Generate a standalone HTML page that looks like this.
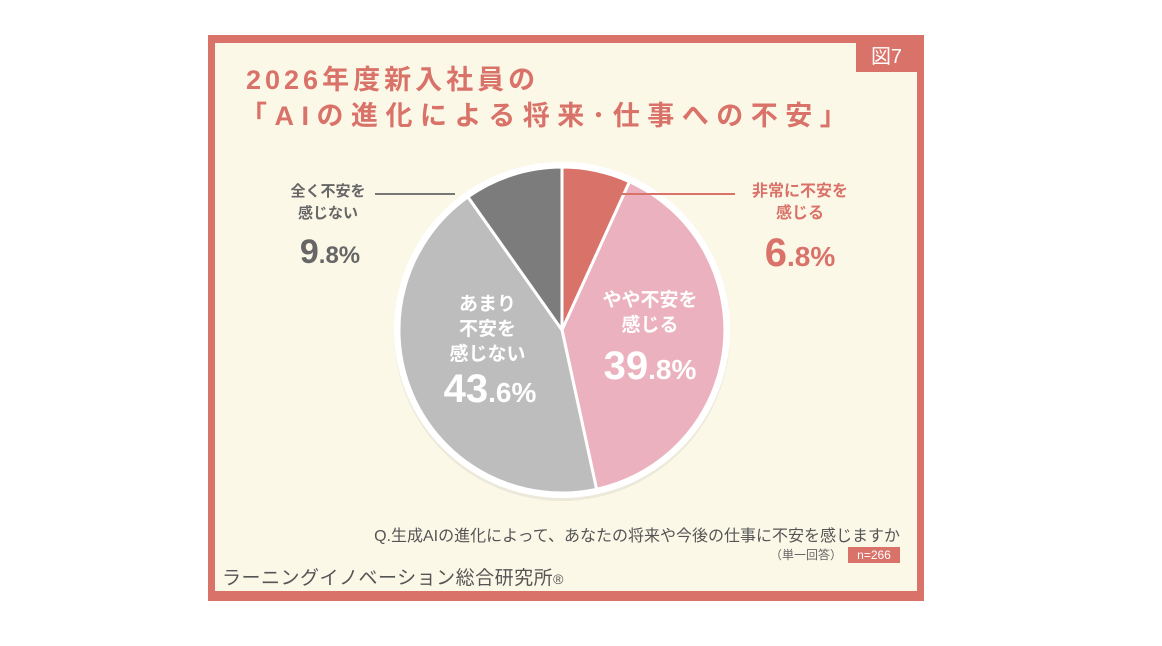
<!DOCTYPE html>
<html><head><meta charset="utf-8"><style>
body{margin:0;width:1162px;height:646px;background:#fff;position:relative;overflow:hidden;font-family:"Liberation Sans","Noto Sans CJK JP",sans-serif}
.frame{position:absolute;left:208px;top:35px;width:716px;height:566px;background:#d97268}
.inner{position:absolute;left:215px;top:43px;width:702px;height:548px;background:#fcf8e8}
.t{position:absolute;white-space:nowrap}
</style></head><body>
<div class="frame"></div><div class="inner"></div>
<div class="t" style="left:856px;top:43px;width:61px;height:29px;background:#d97268;color:#fff;font-size:20px;line-height:29px;text-align:center">図7</div>
<div class="t" style="left:246px;top:64px;font-size:27px;font-weight:bold;color:#d97268;letter-spacing:4px;line-height:32px">2026年度新入社員の</div>
<div class="t" style="left:240px;top:100px;font-size:27px;font-weight:bold;color:#d97268;letter-spacing:7.5px;line-height:32px">「AIの進化による将来･仕事への不安」</div>
<svg style="position:absolute;left:0;top:0" width="1162" height="646">
<circle cx="562" cy="333" r="168" fill="#000" opacity="0.06"/>
<circle cx="562" cy="330" r="168" fill="#fff"/>
<path d="M562,330 L562,167 A163,163 0 0 1 629.5,181.7Z" fill="#d97268" stroke="#fff" stroke-width="3"/>
<path d="M562,330 L629.5,181.7 A163,163 0 0 1 596.6,489.3Z" fill="#ecb1be" stroke="#fff" stroke-width="3"/>
<path d="M562,330 L596.6,489.3 A163,163 0 0 1 467.9,196.9Z" fill="#bdbdbd" stroke="#fff" stroke-width="3"/>
<path d="M562,330 L467.9,196.9 A163,163 0 0 1 562,167Z" fill="#7c7c7c" stroke="#fff" stroke-width="3"/>
<line x1="375" y1="194" x2="455" y2="194" stroke="#777" stroke-width="2"/>
<line x1="590" y1="194" x2="735" y2="194" stroke="#d97268" stroke-width="2"/>
</svg>
<div class="t" style="left:268px;top:181px;width:120px;text-align:center;font-size:15px;color:#666;line-height:22px;font-weight:bold">全く不安を<br>感じない</div>
<div class="t" style="left:270px;top:232px;width:120px;text-align:center;font-size:34px;color:#666;font-weight:bold;line-height:40px">9<span style="font-size:24px">.8%</span></div>
<div class="t" style="left:735px;top:181px;width:130px;text-align:center;font-size:16px;color:#d97268;line-height:22px;font-weight:bold">非常に不安を<br>感じる</div>
<div class="t" style="left:735px;top:230px;width:130px;text-align:center;font-size:40px;color:#d97268;font-weight:bold;line-height:46px">6<span style="font-size:28px">.8%</span></div>
<div class="t" style="left:580px;top:288px;width:140px;text-align:center;font-size:19px;color:#fff;line-height:25px;font-weight:bold">やや不安を<br>感じる</div>
<div class="t" style="left:575px;top:343px;width:150px;text-align:center;font-size:40px;color:#fff;font-weight:bold;line-height:46px">39<span style="font-size:28px">.8%</span></div>
<div class="t" style="left:420px;top:292px;width:135px;text-align:center;font-size:19px;color:#fff;line-height:25px;font-weight:bold">あまり<br>不安を<br>感じない</div>
<div class="t" style="left:415px;top:366px;width:150px;text-align:center;font-size:40px;color:#fff;font-weight:bold;line-height:46px">43<span style="font-size:28px">.6%</span></div>
<div class="t" style="right:262px;top:527px;font-size:16px;color:#555;line-height:20px">Q.生成AIの進化によって、あなたの将来や今後の仕事に不安を感じますか</div>
<div class="t" style="left:770px;top:547px;font-size:12px;color:#666;line-height:16px">（単一回答）</div>
<div class="t" style="left:848px;top:547px;width:52px;height:16px;background:#d97268;color:#fff;font-size:12px;line-height:16px;text-align:center">n=266</div>
<div class="t" style="left:222px;top:567px;font-size:19px;color:#555;line-height:24px;letter-spacing:0.5px">ラーニングイノベーション総合研究所<span style="font-size:14px">®</span></div>
</body></html>
